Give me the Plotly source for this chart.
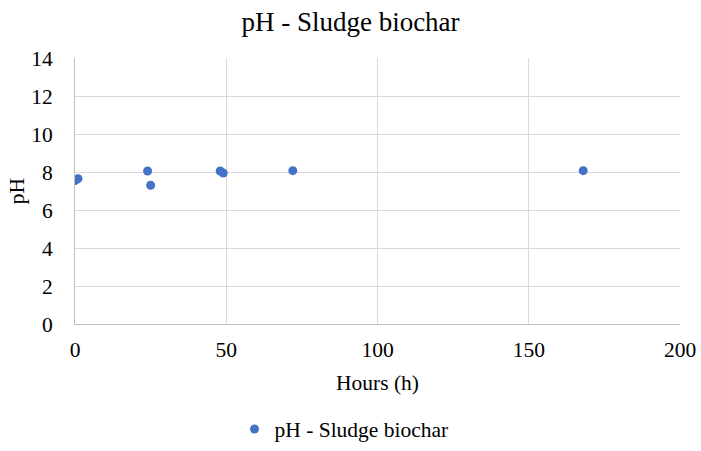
import plotly.graph_objects as go

# Sampling times (hours) and measured pH of the sludge biochar
hours = [0, 1, 24, 25, 48, 49, 72, 168]
ph = [7.55, 7.65, 8.05, 7.3, 8.05, 7.95, 8.07, 8.07]

x_ticks = [0, 50, 100, 150, 200]
y_ticks = [0, 2, 4, 6, 8, 10, 12, 14]

font_family = "Liberation Serif, Times New Roman, serif"
grid_color = "#d9d9d9"
label_size = 21.5

fig = go.Figure()
fig.add_trace(go.Scatter(
    x=hours, y=ph,
    mode="markers",
    name="pH - Sludge biochar",
    marker=dict(color="#4472C4", size=9),
))

fig.update_layout(
    width=701, height=451,
    margin=dict(l=75, r=21, t=58, b=127, autoexpand=False),
    paper_bgcolor="white",
    plot_bgcolor="white",
    font=dict(family=font_family, size=label_size, color="black"),
    title=dict(
        text="pH - Sludge biochar",
        x=0.5, xanchor="center",
        yref="container", y=1 - 22 / 451, yanchor="middle",
        font=dict(family=font_family, size=27, color="black"),
    ),
    showlegend=True,
    legend=dict(
        orientation="h",
        xref="container", x=344 / 701, xanchor="center",
        yref="container", y=1 - 429 / 451, yanchor="middle",
        font=dict(family=font_family, size=label_size),
        itemwidth=30,
    ),
)

fig.update_xaxes(
    range=[0, 200],
    tickvals=x_ticks,
    showgrid=True, gridcolor=grid_color, gridwidth=1,
    showline=True, linecolor="#bfbfbf", linewidth=1,
    zeroline=False, automargin=False,
    ticks="", ticklabelstandoff=6,
    title=dict(text="Hours (h)", standoff=14, font=dict(size=label_size)),
)
fig.update_yaxes(
    range=[0, 14],
    tickvals=y_ticks,
    showgrid=True, gridcolor=grid_color, gridwidth=1,
    showline=True, linecolor="#bfbfbf", linewidth=1,
    zeroline=False, automargin=False,
    ticks="", ticklabelstandoff=17,
    title=dict(text="pH", standoff=0, font=dict(size=label_size)),
)

fig.write_html("out.html")
